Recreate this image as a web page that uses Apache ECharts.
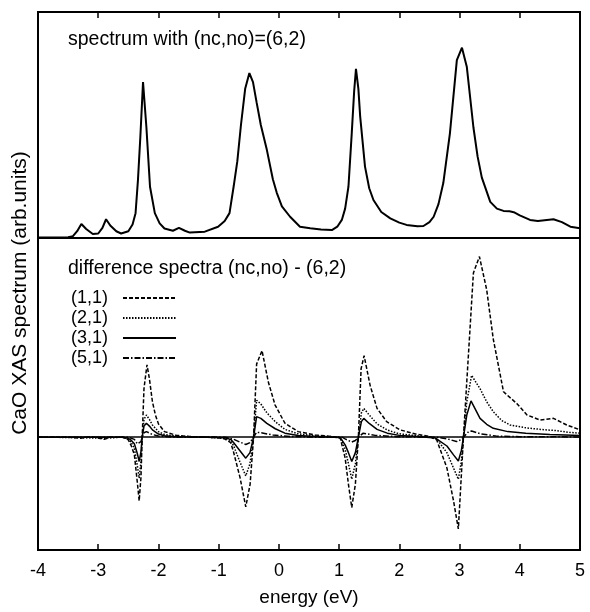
<!DOCTYPE html>
<html>
<head>
<meta charset="utf-8">
<script src="https://cdn.jsdelivr.net/npm/echarts@6/dist/echarts.min.js"></script>
<style>
  html, body { margin: 0; background: #fff; }
  #chart { width: 590px; height: 612px; }
</style>
</head>
<body>
<div id="chart"></div>
<script>
(function () {
  const FONT = "'Liberation Sans', Arial, Helvetica, sans-serif";

  // energy axis tick labels (eV)
  const xTickValues = [-4, -3, -2, -1, 0, 1, 2, 3, 4, 5];
  const xTickLabels = ["-4", "-3", "-2", "-1", "0", "1", "2", "3", "4", "5"];

  // upper panel: spectrum with (nc,no)=(6,2), [energy, intensity]
  const spectrum62 = [
    [-4.0, 0.02], [-3.5, 0.03], [-3.42, 0.08], [-3.35, 0.3], [-3.28, 0.62], [-3.2, 0.4],
    [-3.09, 0.18], [-3.0, 0.2], [-2.93, 0.45], [-2.87, 0.83], [-2.8, 0.55], [-2.7, 0.3],
    [-2.62, 0.2], [-2.5, 0.3], [-2.43, 0.6], [-2.38, 1.1], [-2.34, 2.57], [-2.3, 4.5],
    [-2.256, 6.9], [-2.2, 4.9], [-2.14, 2.27], [-2.06, 1.1], [-1.98, 0.65], [-1.9, 0.42],
    [-1.76, 0.32], [-1.66, 0.45], [-1.56, 0.32], [-1.48, 0.24], [-1.23, 0.28], [-1.01, 0.5],
    [-0.9, 0.75], [-0.82, 1.1], [-0.75, 2.3], [-0.69, 3.4], [-0.63, 5.0], [-0.56, 6.6],
    [-0.49, 7.3], [-0.43, 6.9], [-0.37, 6.0], [-0.3, 5.0], [-0.2, 3.9], [-0.1, 2.6],
    [-0.035, 2.0], [0.05, 1.4], [0.186, 0.94], [0.35, 0.5], [0.52, 0.43], [0.7, 0.38],
    [0.88, 0.35], [0.97, 0.5], [1.045, 0.8], [1.1, 1.3], [1.155, 2.27], [1.21, 4.64],
    [1.25, 6.5], [1.28, 7.48], [1.32, 6.6], [1.35, 5.37], [1.43, 3.16], [1.5, 2.2],
    [1.57, 1.68], [1.7, 1.15], [1.85, 0.87], [2.0, 0.68], [2.12, 0.58], [2.3, 0.52],
    [2.4, 0.53], [2.5, 0.7], [2.57, 0.94], [2.65, 1.5], [2.73, 2.43], [2.84, 4.63],
    [2.955, 7.87], [3.04, 8.42], [3.12, 7.58], [3.23, 4.9], [3.3, 3.6], [3.37, 2.67],
    [3.51, 1.6], [3.62, 1.3], [3.73, 1.2], [3.83, 1.18], [3.9, 1.14], [4.0, 1.0],
    [4.17, 0.8], [4.3, 0.75], [4.45, 0.8], [4.56, 0.83], [4.7, 0.7], [4.84, 0.5], [5.0, 0.43]
  ];

  // lower panel: difference spectra (nc,no) - (6,2)
  const diff11 = [
    [-4.0, 0], [-3.5, 0], [-3.3, -0.05], [-3.1, 0.02], [-2.9, -0.1], [-2.8, 0], [-2.6, 0],
    [-2.5, -0.12], [-2.45, -0.4], [-2.4, -0.79], [-2.35, -2.06], [-2.32, -2.88], [-2.29, -1.8],
    [-2.27, 0], [-2.24, 2.2], [-2.19, 3.27], [-2.15, 2.64], [-2.1, 1.6], [-2.05, 1.0],
    [-2.0, 0.6], [-1.9, 0.25], [-1.7, 0.08], [-1.5, 0.03], [-1.2, 0], [-1.0, -0.03],
    [-0.9, -0.08], [-0.8, -0.25], [-0.756, -0.64], [-0.645, -1.83], [-0.55, -3.15],
    [-0.478, -2.13], [-0.42, 0], [-0.37, 3.3], [-0.28, 3.91], [-0.175, 2.49], [-0.063, 1.45],
    [0.1, 0.63], [0.32, 0.25], [0.6, 0.1], [0.88, 0.03], [1.02, -0.05], [1.1, -0.94],
    [1.155, -2.13], [1.21, -3.18], [1.27, -2.13], [1.32, 0], [1.365, 3.09], [1.415, 3.68],
    [1.515, 2.34], [1.63, 1.3], [1.79, 0.7], [2.01, 0.33], [2.29, 0.13], [2.5, 0.03],
    [2.62, -0.12], [2.79, -1.39], [2.9, -2.88], [2.98, -4.15], [3.02, -2.2], [3.065, 0],
    [3.12, 2.5], [3.23, 7.42], [3.33, 8.16], [3.45, 6.67], [3.56, 4.43], [3.73, 2.05],
    [3.95, 1.52], [4.12, 1.0], [4.34, 0.77], [4.56, 0.85], [4.78, 0.55], [5.0, 0.33]
  ];
  const diff21 = [
    [-4.0, 0], [-3.3, -0.02], [-2.9, -0.05], [-2.6, 0], [-2.5, -0.08], [-2.45, -0.25],
    [-2.4, -0.5], [-2.35, -1.3], [-2.32, -1.85], [-2.29, -1.1], [-2.27, 0], [-2.24, 0.8],
    [-2.2, 1.0], [-2.15, 0.8], [-2.1, 0.55], [-2.0, 0.25], [-1.9, 0.12], [-1.7, 0.04],
    [-1.2, 0], [-0.9, -0.05], [-0.8, -0.15], [-0.75, -0.4], [-0.65, -1.1], [-0.55, -1.75],
    [-0.48, -1.2], [-0.42, 0], [-0.37, 1.67], [-0.3, 1.5], [-0.2, 1.1], [-0.06, 0.7],
    [0.1, 0.35], [0.32, 0.15], [0.6, 0.06], [0.9, 0.02], [1.02, -0.03], [1.1, -0.55],
    [1.155, -1.2], [1.21, -1.9], [1.27, -1.2], [1.32, 0], [1.37, 1.1], [1.41, 1.3],
    [1.5, 1.0], [1.63, 0.6], [1.8, 0.32], [2.0, 0.15], [2.3, 0.06], [2.5, 0.01],
    [2.62, -0.08], [2.79, -0.7], [2.9, -1.4], [2.98, -1.9], [3.03, -1.1], [3.065, 0],
    [3.12, 1.6], [3.2, 2.79], [3.34, 2.19], [3.45, 1.6], [3.56, 1.15], [3.7, 0.75],
    [3.84, 0.55], [4.1, 0.42], [4.42, 0.33], [4.6, 0.3], [4.8, 0.22], [5.0, 0.18]
  ];
  const diff31 = [
    [-4.0, 0], [-3.3, 0], [-2.6, 0], [-2.5, -0.05], [-2.45, -0.15], [-2.4, -0.3],
    [-2.35, -0.75], [-2.32, -1.1], [-2.29, -0.65], [-2.27, 0], [-2.24, 0.5], [-2.2, 0.63],
    [-2.15, 0.5], [-2.1, 0.33], [-2.0, 0.14], [-1.9, 0.06], [-1.7, 0.02], [-1.2, 0],
    [-0.9, -0.03], [-0.8, -0.1], [-0.75, -0.25], [-0.65, -0.6], [-0.55, -0.95], [-0.48, -0.7],
    [-0.42, 0], [-0.37, 0.93], [-0.3, 0.85], [-0.2, 0.62], [-0.06, 0.38], [0.1, 0.18],
    [0.32, 0.07], [0.6, 0.03], [1.02, -0.02], [1.1, -0.35], [1.155, -0.7], [1.21, -1.1],
    [1.27, -0.7], [1.32, 0], [1.37, 0.7], [1.41, 0.85], [1.5, 0.62], [1.63, 0.35],
    [1.8, 0.18], [2.0, 0.08], [2.3, 0.03], [2.6, -0.04], [2.79, -0.4], [2.9, -0.8],
    [2.98, -1.08], [3.03, -0.6], [3.065, 0], [3.12, 1.0], [3.19, 1.64], [3.34, 0.85],
    [3.45, 0.58], [3.56, 0.4], [3.8, 0.25], [4.1, 0.18], [4.5, 0.12], [5.0, 0.08]
  ];
  const diff51 = [
    [-4.0, 0], [-2.5, 0], [-2.4, -0.1], [-2.35, -0.3], [-2.32, -0.38], [-2.29, -0.2],
    [-2.27, 0], [-2.24, 0.2], [-2.2, 0.25], [-2.1, 0.12], [-2.0, 0.05], [-1.8, 0.01],
    [-0.9, 0], [-0.75, -0.1], [-0.65, -0.22], [-0.55, -0.33], [-0.48, -0.25], [-0.42, 0],
    [-0.37, 0.22], [-0.3, 0.2], [-0.1, 0.1], [0.2, 0.03], [0.6, 0], [1.05, 0], [1.1, -0.08],
    [1.21, -0.22], [1.27, -0.15], [1.32, 0], [1.4, 0.18], [1.6, 0.08], [2.0, 0.02],
    [2.6, 0], [2.8, -0.08], [2.95, -0.2], [3.02, -0.12], [3.065, 0], [3.15, 0.25],
    [3.2, 0.28], [3.35, 0.15], [3.6, 0.05], [4.0, 0.02], [5.0, 0.01]
  ];

  const diffNames = ["(1,1)", "(2,1)", "(3,1)", "(5,1)"];
  const diffData = [diff11, diff21, diff31, diff51];
  const diffDash = [[4, 2], [1.5, 1.5], "solid", [6, 2, 1.5, 2]];

  const chart = echarts.init(document.getElementById("chart"), null, { renderer: "canvas" });

  const tickLabel = (v) => {
    const i = xTickValues.indexOf(Math.round(v));
    return i >= 0 ? xTickLabels[i] : "";
  };

  const hiddenY = (gridIndex, min, max) => ({
    type: "value", gridIndex, min, max,
    axisLine: { show: false, onZero: false }, axisTick: { show: false },
    axisLabel: { show: false }, splitLine: { show: false }
  });

  const diffSeries = diffNames.map((name, i) => ({
    name,
    type: "line",
    xAxisIndex: 1,
    yAxisIndex: 1,
    data: diffData[i],
    symbol: "none",
    smooth: false,
    silent: true,
    z: 3 + i,
    itemStyle: { color: "#000" },
    lineStyle: { color: "#000", width: 1.5, type: diffDash[i] },
    markLine: i === 3 ? {
      silent: true,
      symbol: "none",
      label: { show: false },
      lineStyle: { color: "#000", width: 1.5, type: "solid" },
      data: [{ yAxis: 0 }]
    } : undefined
  }));

  chart.setOption({
    animation: false,
    backgroundColor: "#fff",
    textStyle: { fontFamily: FONT, color: "#000" },
    grid: [
      { left: 38, right: 10, top: 12, height: 226, show: true, borderColor: "#000", borderWidth: 2, backgroundColor: "transparent" },
      { left: 38, right: 10, top: 238, height: 315, show: true, borderColor: "#000", borderWidth: 2, backgroundColor: "transparent" }
    ],
    xAxis: [
      {
        type: "value", gridIndex: 0, min: -4, max: 5, interval: 1, position: "top",
        axisLine: { show: false, onZero: false },
        axisTick: { show: true, inside: true, length: 6, lineStyle: { color: "#000", width: 1.5 } },
        axisLabel: { show: false }, splitLine: { show: false }
      },
      {
        type: "value", gridIndex: 1, min: -4, max: 5, interval: 1, position: "bottom",
        axisLine: { show: false, onZero: false },
        axisTick: { show: true, inside: true, length: 6, lineStyle: { color: "#000", width: 1.5 } },
        axisLabel: { show: true, margin: 12, color: "#000", fontSize: 18, fontFamily: FONT, formatter: tickLabel },
        splitLine: { show: false },
        name: "energy (eV)",
        nameLocation: "middle",
        nameGap: 38,
        nameTextStyle: { color: "#000", fontSize: 19, fontFamily: FONT }
      }
    ],
    yAxis: [hiddenY(0, 0, 10), hiddenY(1, -5.1, 9)],
    legend: {
      data: diffNames,
      orient: "vertical",
      left: 66,
      top: 284,
      align: "right",
      itemWidth: 53,
      itemHeight: 14,
      itemGap: 2,
      selectedMode: false,
      itemStyle: { opacity: 0 },
      textStyle: { color: "#000", fontSize: 18, fontFamily: FONT, padding: [0, 10, 0, 0] }
    },
    graphic: [
      {
        type: "text", x: 68, y: 40,
        style: { text: "spectrum with (nc,no)=(6,2)", fill: "#000", font: "19.5px " + FONT, textVerticalAlign: "middle" }
      },
      {
        type: "text", x: 68, y: 269,
        style: { text: "difference spectra (nc,no) - (6,2)", fill: "#000", font: "19.5px " + FONT, textVerticalAlign: "middle" }
      },
      {
        type: "text", x: 20, y: 293, rotation: Math.PI / 2,
        style: { text: "CaO XAS spectrum (arb.units)", fill: "#000", font: "21px " + FONT, textAlign: "center", textVerticalAlign: "middle" }
      }
    ],
    series: [
      {
        name: "(6,2)",
        type: "line",
        xAxisIndex: 0,
        yAxisIndex: 0,
        data: spectrum62,
        symbol: "none",
        smooth: false,
        silent: true,
        itemStyle: { color: "#000" },
        lineStyle: { color: "#000", width: 2 }
      }
    ].concat(diffSeries)
  });

  window.addEventListener("resize", () => chart.resize());
})();
</script>
</body>
</html>
